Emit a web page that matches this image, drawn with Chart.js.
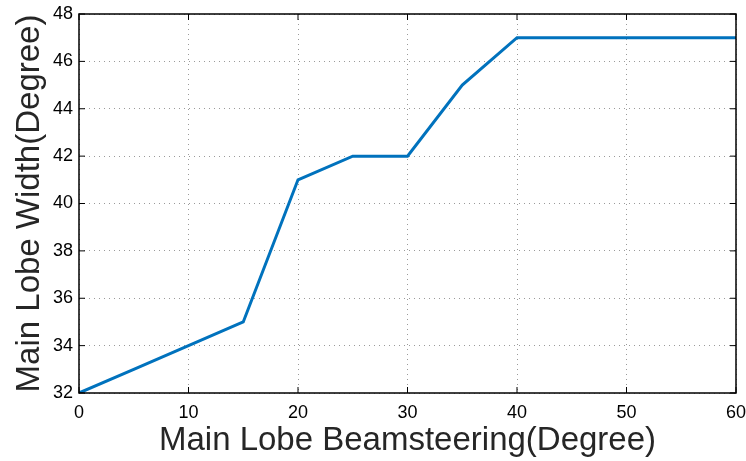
<!DOCTYPE html>
<html>
<head>
<meta charset="utf-8">
<script src="https://cdn.jsdelivr.net/npm/chart.js@4"></script>
<style>
  html, body { margin: 0; padding: 0; background: #fff; }
  #wrap { width: 746px; height: 461px; }
</style>
</head>
<body>
<div id="wrap"><canvas id="lobeChart" width="746" height="461"></canvas></div>
<script>
const steeringAngles = [0, 5, 10, 15, 20, 25, 30, 35, 40, 45, 50, 55, 60];
const lobeWidths = [32, 33, 34, 35, 41, 42, 42, 45, 47, 47, 47, 47, 47];
const xTicks = [0, 10, 20, 30, 40, 50, 60];
const yTicks = [32, 34, 36, 38, 40, 42, 44, 46, 48];

// box around the plot with MATLAB-style inward ticks
const boxPlugin = {
  id: "boxPlugin",
  afterDatasetsDraw(chart) {
    const { ctx, chartArea: a, scales } = chart;
    ctx.save();
    ctx.strokeStyle = "#000";
    ctx.lineWidth = 1.5;
    ctx.strokeRect(a.left, a.top, a.right - a.left, a.bottom - a.top);
    ctx.lineWidth = 1;
    ctx.beginPath();
    xTicks.forEach(v => {
      const px = scales.x.getPixelForValue(v);
      ctx.moveTo(px, a.bottom); ctx.lineTo(px, a.bottom - 6);
      ctx.moveTo(px, a.top); ctx.lineTo(px, a.top + 6);
    });
    yTicks.forEach(v => {
      const py = scales.y.getPixelForValue(v);
      ctx.moveTo(a.left, py); ctx.lineTo(a.left + 6, py);
      ctx.moveTo(a.right, py); ctx.lineTo(a.right - 6, py);
    });
    ctx.stroke();
    ctx.restore();
  }
};

const ctx = document.getElementById("lobeChart").getContext("2d");
new Chart(ctx, {
  type: "line",
  data: {
    datasets: [{
      data: steeringAngles.map((x, i) => ({ x: x, y: lobeWidths[i] })),
      borderColor: "#0072BD",
      borderWidth: 3,
      pointRadius: 0,
      tension: 0,
      fill: false
    }]
  },
  options: {
    responsive: false,
    animation: false,
    layout: { padding: { top: 14, right: 10, left: 10, bottom: 0 } },
    plugins: { legend: { display: false }, tooltip: { enabled: false } },
    scales: {
      x: {
        type: "linear",
        min: 0, max: 60,
        afterBuildTicks: s => { s.ticks = xTicks.map(v => ({ value: v })); },
        afterFit: s => { s.height = 68; s.paddingLeft = 0; s.paddingRight = 0; },
        grid: { color: "#9a9a9a", lineWidth: 1, drawTicks: false },
        border: { display: false, dash: [1, 4] },
        ticks: { color: "#000", padding: 9, maxRotation: 0, font: { family: "Liberation Sans", size: 18 } },
        title: {
          display: true,
          text: "Main Lobe Beamsteering(Degree)",
          color: "#262626",
          padding: { top: 0, bottom: 0 },
          font: { family: "Liberation Sans", size: 33 }
        }
      },
      y: {
        min: 32, max: 48,
        afterBuildTicks: s => { s.ticks = yTicks.map(v => ({ value: v })); },
        afterFit: s => { s.width = 69; s.paddingTop = 0; s.paddingBottom = 0; },
        grid: { color: "#9a9a9a", lineWidth: 1, drawTicks: false },
        border: { display: false, dash: [1, 4] },
        ticks: { color: "#000", padding: 6, font: { family: "Liberation Sans", size: 18 } },
        title: {
          display: true,
          text: "Main Lobe Width(Degree)",
          color: "#262626",
          padding: { top: 0, bottom: 0 },
          font: { family: "Liberation Sans", size: 33 }
        }
      }
    }
  },
  plugins: [boxPlugin]
});
</script>
</body>
</html>
